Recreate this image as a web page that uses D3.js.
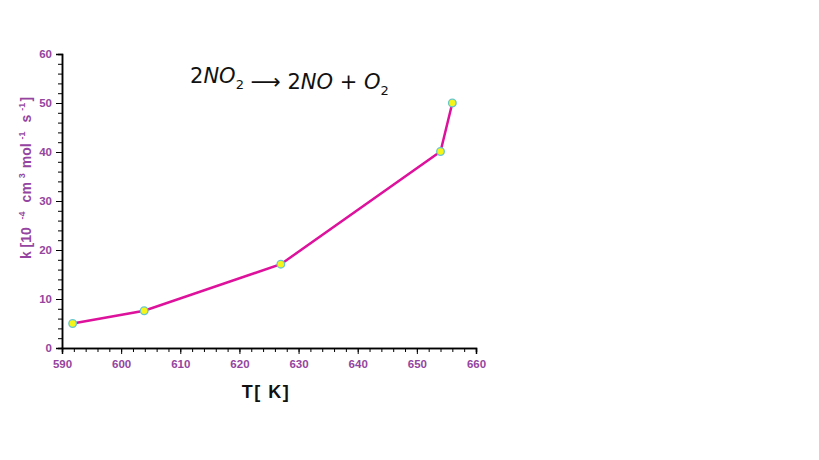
<!DOCTYPE html>
<html><head><meta charset="utf-8">
<script src="https://cdn.jsdelivr.net/npm/d3@7"></script>
<style>body{margin:0;background:#fff}svg{display:block}</style>
</head><body>
<svg id="c" width="819" height="460"></svg>
<script>
const temperatures = [591.8, 603.9, 627.0, 654.0, 656.0];
const rateConstants = [5.0, 7.6, 17.1, 40.1, 50.0];
const xTicks = [590, 600, 610, 620, 630, 640, 650, 660];
const yTicks = [0, 10, 20, 30, 40, 50, 60];

const svg = d3.select("#c");
const purple = "#9545a0";
const x = d3.scaleLinear().domain([590, 660]).range([62, 476]);
const y = d3.scaleLinear().domain([0, 60]).range([348, 54]);

// minor ticks
svg.append("g").attr("transform","translate(0,348)")
  .call(d3.axisBottom(x).tickValues(d3.range(590, 661, 2)).tickSize(4).tickFormat(""));
svg.append("g").attr("transform","translate(62,0)")
  .call(d3.axisLeft(y).tickValues(d3.range(0, 61, 2)).tickSize(4).tickFormat(""));
// major ticks
const gx = svg.append("g").attr("transform","translate(0,348)")
  .call(d3.axisBottom(x).tickValues(xTicks).tickSize(6).tickPadding(6).tickFormat(d3.format("d")));
const gy = svg.append("g").attr("transform","translate(62,0)")
  .call(d3.axisLeft(y).tickValues(yTicks).tickSize(6).tickPadding(4).tickFormat(d3.format("d")));
svg.selectAll(".domain").attr("stroke","#000").attr("stroke-width",1.5);
svg.selectAll(".tick line").attr("stroke","#000");
[gx, gy].forEach(g => g.selectAll("text")
  .attr("fill", purple).attr("font-family","Liberation Sans, Arial, sans-serif")
  .attr("font-size", 11.5).attr("font-weight","bold"));

const data = temperatures.map((t, i) => ({t, k: rateConstants[i]}));
svg.append("path").datum(data)
  .attr("d", d3.line().x(d => x(d.t)).y(d => y(d.k)))
  .attr("fill","none").attr("stroke","#dd119b").attr("stroke-width",2.5);
svg.selectAll("circle.pt").data(data).enter().append("circle")
  .attr("cx", d => x(d.t)).attr("cy", d => y(d.k)).attr("r", 3.8)
  .attr("fill","#f5f51a").attr("stroke","#66c6cc").attr("stroke-width",1.3);

// y label
const yl = svg.append("text")
  .attr("transform","translate(31,178) rotate(-90)")
  .attr("text-anchor","middle")
  .attr("fill", purple).attr("font-family","Liberation Sans, Arial, sans-serif")
  .attr("font-size", 14).attr("font-weight","bold")
  .style("white-space","pre");
const parts = [["k [10  ",0],["-4",1],["  cm ",0],["3",1],[" mol ",0],["-1",1],["  s ",0],["-1",1],["]",0]];
parts.forEach(([s, sup]) => {
  yl.append("tspan").text(s)
    .attr("font-size", sup ? 9 : 14)
    .attr("dy", sup ? -6 : 0);
  if (sup) yl.append("tspan").text("\u200A").attr("dy", 6);
});

// x label
svg.append("text").attr("x", 266).attr("y", 398).attr("text-anchor","middle")
  .attr("font-family","Liberation Sans, Arial, sans-serif").attr("font-size", 18)
  .attr("font-weight","bold").attr("fill","#111").attr("letter-spacing", 1.5)
  .style("white-space","pre").text("T[ K]");

// equation
const eq = svg.append("text").attr("x", 190).attr("y", 83)
  .attr("font-family","DejaVu Sans, sans-serif").attr("font-size", 21).attr("fill","#111")
  .style("white-space","pre");
const eqParts = [["2",0,0],["NO",1,0],["2",0,1],[" \u27F6 ",0,0],["2",0,0],["NO",1,0],[" + ",0,0],["O",1,0],["2",0,1]];
eqParts.forEach(([s, it, sub]) => {
  const ts = eq.append("tspan").text(s).attr("font-style", it ? "italic" : "normal");
  if (sub) { ts.attr("font-size", 13).attr("dy", 6); }
  else ts.attr("dy", 0);
  if (sub) eq.append("tspan").text("").attr("dy", -6);
});
</script>
</body></html>
